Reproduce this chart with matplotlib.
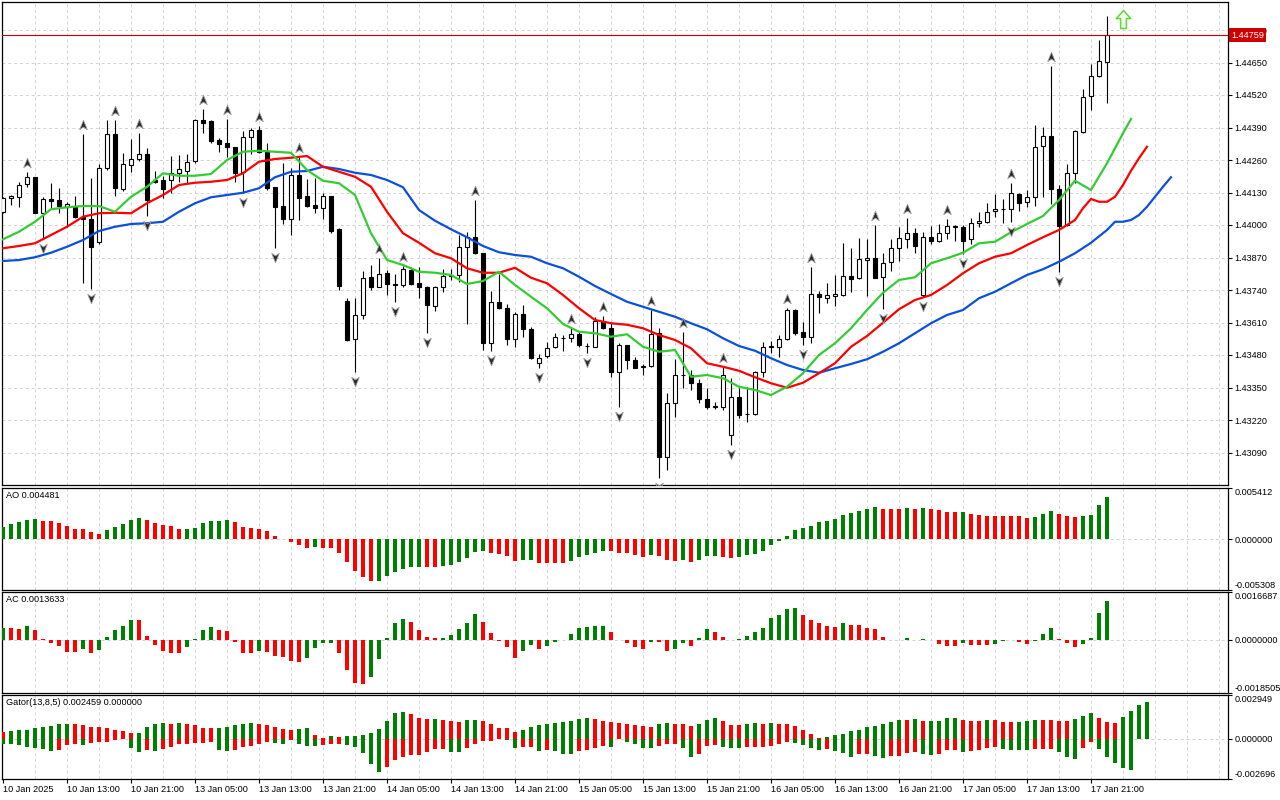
import numpy as np
import matplotlib
matplotlib.use('Agg')
from matplotlib import pyplot as plt
from matplotlib.path import Path
from matplotlib.transforms import offset_copy, blended_transform_factory

plt.rcParams['font.family'] = ['Liberation Sans', 'DejaVu Sans']
plt.rcParams['font.size'] = 6.6
FS = 6.6

# ---- H1 candles, 10 Jan 2025 05:00 .. 17 Jan 2025 ----
opens = [
    1.44053, 1.44108, 1.44113, 1.44163, 1.44191, 1.44047, 1.44103, 1.44099, 1.44071, 1.44071,
    1.44031, 1.44023, 1.43931, 1.44227, 1.44363, 1.44143, 1.44239, 1.44263, 1.44283, 1.44180,
    1.44179, 1.44180, 1.44207, 1.44217, 1.44257, 1.44420, 1.44416, 1.44340, 1.44327, 1.44312,
    1.44213, 1.44351, 1.44380, 1.44297, 1.44151, 1.44076, 1.44025, 1.44200, 1.44116, 1.44080,
    1.44067, 1.44116, 1.43983, 1.43697, 1.43543, 1.43640, 1.43793, 1.43753, 1.43807, 1.43763,
    1.43759, 1.43820, 1.43769, 1.43751, 1.43676, 1.43751, 1.43796, 1.43799, 1.43913, 1.43953,
    1.43887, 1.43529, 1.43693, 1.43667, 1.43543, 1.43643, 1.43583, 1.43447, 1.43476, 1.43511,
    1.43549, 1.43547, 1.43563, 1.43516, 1.43513, 1.43617, 1.43587, 1.43413, 1.43520, 1.43460,
    1.43433, 1.43436, 1.43567, 1.43073, 1.43287, 1.43400, 1.43400, 1.43367, 1.43303, 1.43273,
    1.43273, 1.43160, 1.43311, 1.43243, 1.43243, 1.43413, 1.43513, 1.43513, 1.43543, 1.43660,
    1.43573, 1.43551, 1.43723, 1.43709, 1.43716, 1.43719, 1.43796, 1.43787, 1.43860, 1.43867,
    1.43791, 1.43853, 1.43907, 1.43945, 1.43967, 1.43720, 1.43951, 1.43937, 1.43967, 1.43993,
    1.43993, 1.43943, 1.44007, 1.44013, 1.44055, 1.44063, 1.44063, 1.44124, 1.44091, 1.44113,
    1.44316, 1.44356, 1.44144, 1.43999, 1.44209, 1.44373, 1.44517, 1.44596, 1.44653,
]
highs = [
    1.44113, 1.44120, 1.44171, 1.44211, 1.44193, 1.44111, 1.44167, 1.44149, 1.44091, 1.44117,
    1.44364, 1.44187, 1.44244, 1.44420, 1.44420, 1.44287, 1.44343, 1.44369, 1.44309, 1.44216,
    1.44196, 1.44277, 1.44280, 1.44284, 1.44423, 1.44463, 1.44420, 1.44347, 1.44424, 1.44313,
    1.44376, 1.44387, 1.44396, 1.44329, 1.44153, 1.44247, 1.44227, 1.44273, 1.44183, 1.44187,
    1.44129, 1.44118, 1.43987, 1.43707, 1.43707, 1.43817, 1.43840, 1.43869, 1.43820, 1.43804,
    1.43836, 1.43833, 1.43833, 1.43755, 1.43756, 1.43823, 1.43823, 1.43960, 1.43971, 1.44100,
    1.43889, 1.43736, 1.43804, 1.43684, 1.43653, 1.43680, 1.43593, 1.43484, 1.43533, 1.43567,
    1.43560, 1.43587, 1.43573, 1.43529, 1.43633, 1.43637, 1.43607, 1.43527, 1.43522, 1.43473,
    1.43443, 1.43660, 1.43587, 1.43327, 1.43463, 1.43573, 1.43420, 1.43383, 1.43347, 1.43293,
    1.43433, 1.43387, 1.43347, 1.43353, 1.43417, 1.43533, 1.43537, 1.43560, 1.43667, 1.43663,
    1.43613, 1.43833, 1.43737, 1.43767, 1.43800, 1.43927, 1.43907, 1.43947, 1.43943, 1.44000,
    1.43887, 1.43943, 1.43991, 1.44027, 1.43987, 1.43972, 1.43996, 1.44004, 1.44023, 1.43999,
    1.43999, 1.44027, 1.44051, 1.44087, 1.44124, 1.44103, 1.44167, 1.44129, 1.44140, 1.44400,
    1.44393, 1.44636, 1.44160, 1.44244, 1.44380, 1.44543, 1.44644, 1.44740, 1.44836,
]
lows = [
    1.44047, 1.44080, 1.44071, 1.44151, 1.44047, 1.43943, 1.44067, 1.44047, 1.43993, 1.44027,
    1.43767, 1.43743, 1.43925, 1.44222, 1.44116, 1.44137, 1.44213, 1.44257, 1.44036, 1.44169,
    1.44107, 1.44127, 1.44173, 1.44167, 1.44247, 1.44367, 1.44327, 1.44293, 1.44273, 1.44173,
    1.44127, 1.44284, 1.44287, 1.44140, 1.43907, 1.44004, 1.43960, 1.44020, 1.44071, 1.44047,
    1.44023, 1.43969, 1.43740, 1.43536, 1.43413, 1.43623, 1.43740, 1.43751, 1.43720, 1.43693,
    1.43753, 1.43760, 1.43707, 1.43567, 1.43657, 1.43733, 1.43780, 1.43773, 1.43604, 1.43885,
    1.43500, 1.43497, 1.43663, 1.43520, 1.43513, 1.43553, 1.43463, 1.43427, 1.43467, 1.43507,
    1.43497, 1.43533, 1.43511, 1.43489, 1.43511, 1.43583, 1.43393, 1.43273, 1.43423, 1.43427,
    1.43400, 1.43433, 1.42987, 1.43020, 1.43233, 1.43347, 1.43340, 1.43287, 1.43263, 1.43263,
    1.43260, 1.43120, 1.43227, 1.43213, 1.43240, 1.43393, 1.43489, 1.43473, 1.43540, 1.43560,
    1.43520, 1.43529, 1.43649, 1.43689, 1.43676, 1.43716, 1.43733, 1.43783, 1.43716, 1.43787,
    1.43663, 1.43817, 1.43857, 1.43907, 1.43889, 1.43711, 1.43924, 1.43933, 1.43943, 1.43937,
    1.43884, 1.43924, 1.43991, 1.44009, 1.44031, 1.44009, 1.44013, 1.44057, 1.44071, 1.44077,
    1.44113, 1.44084, 1.43813, 1.43996, 1.44169, 1.44369, 1.44460, 1.44593, 1.44489,
]
closes = [
    1.44107, 1.44116, 1.44159, 1.44191, 1.44049, 1.44103, 1.44097, 1.44077, 1.44083, 1.44031,
    1.44023, 1.43913, 1.44227, 1.44363, 1.44147, 1.44243, 1.44263, 1.44283, 1.44100, 1.44173,
    1.44143, 1.44207, 1.44223, 1.44253, 1.44420, 1.44409, 1.44336, 1.44323, 1.44311, 1.44209,
    1.44351, 1.44380, 1.44293, 1.44147, 1.44073, 1.44025, 1.44201, 1.44109, 1.44076, 1.44067,
    1.44116, 1.43977, 1.43756, 1.43540, 1.43640, 1.43787, 1.43753, 1.43804, 1.43763, 1.43761,
    1.43823, 1.43765, 1.43753, 1.43679, 1.43753, 1.43796, 1.43799, 1.43913, 1.43951, 1.43887,
    1.43529, 1.43693, 1.43667, 1.43543, 1.43643, 1.43583, 1.43469, 1.43469, 1.43509, 1.43551,
    1.43548, 1.43563, 1.43520, 1.43515, 1.43617, 1.43587, 1.43413, 1.43520, 1.43460, 1.43429,
    1.43437, 1.43564, 1.43073, 1.43287, 1.43400, 1.43401, 1.43367, 1.43303, 1.43273, 1.43275,
    1.43400, 1.43311, 1.43240, 1.43244, 1.43413, 1.43513, 1.43515, 1.43543, 1.43660, 1.43569,
    1.43553, 1.43723, 1.43711, 1.43719, 1.43724, 1.43796, 1.43785, 1.43863, 1.43867, 1.43789,
    1.43849, 1.43907, 1.43947, 1.43967, 1.43917, 1.43951, 1.43937, 1.43967, 1.43996, 1.43995,
    1.43937, 1.44007, 1.44016, 1.44052, 1.44063, 1.44064, 1.44127, 1.44089, 1.44111, 1.44313,
    1.44356, 1.44143, 1.43996, 1.44209, 1.44376, 1.44513, 1.44596, 1.44657, 1.44759,
]
last_price = 1.44759

# ---- Alligator (already shifted forward), read every 2nd bar ----
lips_idx = list(range(0, 139, 2)) + [140, 141]
lips = [
    1.43943, 1.43973, 1.44013, 1.44063, 1.44071, 1.44076, 1.44076, 1.44053, 1.44113, 1.44153,
    1.44207, 1.44197, 1.44197, 1.44204, 1.44260, 1.44293, 1.44297, 1.44293, 1.44289, 1.44220,
    1.44177, 1.44167, 1.44120, 1.43967, 1.43860, 1.43840, 1.43813, 1.43809, 1.43800, 1.43764,
    1.43776, 1.43813, 1.43760, 1.43713, 1.43667, 1.43604, 1.43573, 1.43567, 1.43553, 1.43563,
    1.43513, 1.43493, 1.43500, 1.43393, 1.43400, 1.43387, 1.43353, 1.43340, 1.43320, 1.43353,
    1.43407, 1.43480, 1.43527, 1.43587, 1.43660, 1.43729, 1.43780, 1.43791, 1.43847, 1.43867,
    1.43889, 1.43927, 1.43933, 1.43971, 1.44004, 1.44036, 1.44100, 1.44177, 1.44140, 1.44247,
    1.44367, 1.44424,
]
teeth_idx = list(range(0, 135, 2)) + list(range(135, 144))
teeth = [
    1.43907, 1.43916, 1.43927, 1.43960, 1.43993, 1.44033, 1.44047, 1.44049, 1.44047, 1.44087,
    1.44120, 1.44160, 1.44169, 1.44173, 1.44180, 1.44207, 1.44253, 1.44264, 1.44269, 1.44276,
    1.44233, 1.44213, 1.44193, 1.44153, 1.44053, 1.43967, 1.43929, 1.43887, 1.43867, 1.43827,
    1.43809, 1.43809, 1.43829, 1.43789, 1.43767, 1.43720, 1.43667, 1.43620, 1.43607, 1.43601,
    1.43587, 1.43560, 1.43540, 1.43507, 1.43447, 1.43433, 1.43417, 1.43391, 1.43367, 1.43349,
    1.43369, 1.43407, 1.43447, 1.43513, 1.43556, 1.43609, 1.43663, 1.43700, 1.43720, 1.43760,
    1.43807, 1.43847, 1.43873, 1.43887, 1.43920, 1.43951, 1.43980, 1.44020,
    1.44067, 1.44104, 1.44093, 1.44093, 1.44113, 1.44160, 1.44217, 1.44267, 1.44313,
]
jaw_idx = list(range(0, 139, 2)) + list(range(139, 147))
jaw = [
    1.43856, 1.43860, 1.43871, 1.43889, 1.43913, 1.43940, 1.43976, 1.43993, 1.44004, 1.44007,
    1.44013, 1.44053, 1.44087, 1.44111, 1.44120, 1.44129, 1.44147, 1.44191, 1.44213, 1.44216,
    1.44233, 1.44224, 1.44209, 1.44200, 1.44180, 1.44151, 1.44060, 1.44017, 1.43983, 1.43951,
    1.43916, 1.43891, 1.43880, 1.43873, 1.43847, 1.43827, 1.43793, 1.43756, 1.43724, 1.43693,
    1.43673, 1.43653, 1.43633, 1.43607, 1.43583, 1.43547, 1.43516, 1.43497, 1.43467, 1.43440,
    1.43420, 1.43409, 1.43427, 1.43444, 1.43463, 1.43493, 1.43527, 1.43567, 1.43607, 1.43640,
    1.43660, 1.43707, 1.43733, 1.43767, 1.43800, 1.43823, 1.43853, 1.43887, 1.43929, 1.43980,
    1.44013, 1.44013, 1.44020, 1.44040, 1.44073, 1.44113, 1.44153, 1.44191,
]

# fractal bars
frac_up = [3, 10, 14, 17, 25, 28, 32, 37, 47, 50, 59, 71, 75, 81, 85, 90, 98, 101,
           109, 113, 118, 126, 131]
frac_dn = [5, 11, 18, 30, 34, 44, 49, 53, 61, 67, 73, 77, 82, 91, 100, 110, 115, 120,
           126, 132]
signal_bar, signal_price = 140, 1.44824

# ---- Awesome / Accelerator oscillators ----
ao = [
    0.001355, 0.001598, 0.001841, 0.002084, 0.002119, 0.001945, 0.001911, 0.001702, 0.001390, 0.001146,
    0.001130, 0.000764, 0.000625, 0.001042, 0.001355, 0.001598, 0.002015, 0.002293, 0.002050, 0.001702,
    0.001563, 0.001390, 0.001077, 0.001085, 0.001251, 0.001702, 0.001911, 0.001915, 0.002015, 0.001806,
    0.001355, 0.001181, 0.001112, 0.000869, 0.000417, 0.000104, -0.000278, -0.000625, -0.000938, -0.000834,
    -0.000850, -0.000938, -0.001424, -0.002362, -0.003300, -0.003926, -0.004377, -0.004340, -0.003821, -0.003405,
    -0.003092, -0.002918, -0.002900, -0.002910, -0.002920, -0.002814, -0.002675, -0.002362, -0.001945, -0.001320,
    -0.001216, -0.001424, -0.001563, -0.001737, -0.002258, -0.002154, -0.002150, -0.002467, -0.002470, -0.002475,
    -0.002480, -0.002258, -0.001841, -0.001633, -0.001424, -0.001216, -0.001220, -0.001424, -0.001430, -0.001633,
    -0.001841, -0.001668, -0.001737, -0.002119, -0.002258, -0.002154, -0.002362, -0.002154, -0.001737, -0.001730,
    -0.001841, -0.001945, -0.001841, -0.001633, -0.001529, -0.001216, -0.000591, -0.000174, 0.000417, 0.001042,
    0.001251, 0.001459, 0.001806, 0.001980, 0.002189, 0.002606, 0.002814, 0.003022, 0.003231, 0.003439,
    0.003231, 0.003225, 0.003220, 0.003335, 0.003231, 0.003335, 0.003231, 0.003127, 0.002918, 0.002915,
    0.002925, 0.002710, 0.002606, 0.002501, 0.002498, 0.002495, 0.002492, 0.002490, 0.002293, 0.002397,
    0.002710, 0.003022, 0.002710, 0.002501, 0.002397, 0.002501, 0.002606, 0.003648, 0.004481,
]
ao_colors = ("GGGGG RRRRRRRR GGGGG RRRRR GGGGGG RRRRRRRRRR G RRRRRRR GGGGGG RR GGGGGG RRRR GG "
             "RRRR GGGGG RRRRR G RRR G R GGG RR GGGGGGGGGGGGGGGGGG RRR G R G RRRR G RRRRRRRR "
             "GGG RRR GGGG")
ac = [
    0.000408, 0.000400, 0.000390, 0.000489, 0.000350, 0.000035, -0.000093, -0.000210, -0.000408, -0.000410,
    -0.000303, -0.000443, -0.000350, 0.000105, 0.000350, 0.000489, 0.000705, 0.000699, 0.000140, -0.000163,
    -0.000384, -0.000443, -0.000450, -0.000245, 0.000023, 0.000350, 0.000454, 0.000350, 0.000315, -0.000070,
    -0.000443, -0.000450, -0.000384, -0.000408, -0.000559, -0.000583, -0.000734, -0.000757, -0.000617, -0.000280,
    -0.000117, -0.000093, -0.000443, -0.001037, -0.001491, -0.001545, -0.001282, -0.000652, 0.000070, 0.000594,
    0.000734, 0.000629, 0.000350, 0.000105, 0.000070, 0.000075, 0.000175, 0.000384, 0.000594, 0.000909,
    0.000629, 0.000245, -0.000023, -0.000233, -0.000617, -0.000373, -0.000163, -0.000303, -0.000198, -0.000058,
    0.000012, 0.000210, 0.000419, 0.000454, 0.000489, 0.000490, 0.000280, -0.000010, -0.000117, -0.000233,
    -0.000303, -0.000058, -0.000065, -0.000373, -0.000303, -0.000093, -0.000198, 0.000070, 0.000384, 0.000280,
    0.000105, 0.000012, 0.000015, 0.000140, 0.000280, 0.000419, 0.000769, 0.000874, 0.001083, 0.001118,
    0.000874, 0.000699, 0.000594, 0.000489, 0.000454, 0.000594, 0.000524, 0.000520, 0.000419, 0.000384,
    0.000105, 0.000012, -0.000012, 0.000070, -0.000012, 0.000035, -0.000015, -0.000128, -0.000198, -0.000200,
    -0.000093, -0.000163, -0.000165, -0.000170, -0.000128, -0.000047, 0.000012, -0.000058, -0.000128, -0.000023,
    0.000210, 0.000419, 0.000035, -0.000093, -0.000233, -0.000128, 0.000070, 0.000944, 0.0013633,
]
ac_colors = ("G RR G RRRRRR G R GGGGG RRRRRR GGGG RRRRR G RRRRR GGGG RRRR GGGGG RRRR GGGGG RRRRR "
             "GG R GGGGGGGG RRRRR G RR GG R GG RRR GGGGGGGG RRRRR G RRRRRRR G R G RRRR G RRR "
             "GGG RR GGG RRR GGGG")

# ---- Gator oscillator, in points (0.00001) ----
gator_up = [
    48, 55, 61, 61, 70, 77, 88, 97, 103, 103, 90, 83, 77, 70, 61, 55, 42, 42, 77, 103,
    110, 103, 110, 97, 90, 70, 70, 70, 77, 90, 103, 110, 97, 90, 77, 68, 61, 68, 72, 24,
    7, 22, 15, 22, 22, 29, 42, 68, 121, 173, 180, 167, 141, 134, 134, 127, 121, 116, 127, 127,
    121, 101, 75, 75, 48, 61, 81, 94, 101, 108, 114, 121, 134, 141, 134, 121, 114, 108, 103, 94,
    88, 81, 101, 108, 101, 101, 88, 101, 127, 141, 121, 94, 94, 101, 108, 101, 108, 101, 101, 88,
    61, 35, 9, 15, 29, 35, 55, 61, 81, 88, 101, 114, 127, 127, 134, 121, 121, 121, 141, 141,
    127, 121, 121, 127, 127, 114, 114, 114, 121, 127, 127, 127, 121, 121, 134, 154, 173, 141, 114, 108,
    147, 187, 226, 246,
]
gator_up_colors = ("R GGGGGGGG RRRRRRRR GGGG R G RRRR GGGGG RRRRR GG R "
                   "R G R GGGGGGGG RRR G RRR GG RRRRR GGGGGGGGG RRRRRR "
                   "RR GG RRR GGG RRR GG R G RRRRRR GGGGGGGGGG R G R GGGG "
                   "RRR G RRR GGG RRRR GGG RRR GGGG")
gator_dn = [
    33, 35, 40, 57, 64, 66, 81, 77, 42, 35, 42, 29, 22, 18, 9, 4, 61, 88, 75, 81,
    70, 55, 35, 35, 29, 29, 22, 77, 81, 77, 57, 48, 35, 18, 26, 35, 7, 35, 46, 46,
    40, 35, 35, 42, 55, 94, 167, 220, 187, 143, 121, 108, 108, 88, 68, 68, 88, 88, 61, 35,
    15, 15, 2, 9, 61, 55, 55, 81, 75, 81, 101, 101, 81, 75, 61, 48, 55, 2, 22, 35,
    61, 61, 48, 35, 35, 61, 121, 101, 48, 42, 55, 61, 61, 55, 55, 55, 48, 35, 22, 29,
    42, 61, 75, 68, 81, 94, 121, 101, 101, 114, 127, 114, 114, 94, 88, 101, 108, 101, 75, 75,
    88, 81, 75, 61, 55, 68, 75, 75, 75, 68, 68, 68, 88, 121, 134, 61, 22, 68, 121, 160,
    193, 206, 2, 1,
]

# axis texts
price_ticks = [1.43090, 1.43220, 1.43350, 1.43480, 1.43610, 1.43740, 1.43870,
               1.44000, 1.44130, 1.44260, 1.44390, 1.44520, 1.44650, 1.44780]
time_labels = ['10 Jan 2025', '10 Jan 13:00', '10 Jan 21:00', '13 Jan 05:00', '13 Jan 13:00',
               '13 Jan 21:00', '14 Jan 05:00', '14 Jan 13:00', '14 Jan 21:00', '15 Jan 05:00',
               '15 Jan 13:00', '15 Jan 21:00', '16 Jan 05:00', '16 Jan 13:00', '16 Jan 21:00',
               '17 Jan 05:00', '17 Jan 13:00', '17 Jan 21:00']
time_ticks = list(range(0, 8 * len(time_labels), 8))


W, H = 1280, 800
fig = plt.figure(figsize=(W / 100, H / 100), dpi=100)
fig.patch.set_facecolor('white')


def panel(top, bottom):
    return fig.add_axes([2 / W, 1 - bottom / H, 1226 / W, (bottom - top) / H])


ax = panel(2, 485)
ax_ao = panel(488, 590)
ax_ac = panel(592, 693)
ax_gt = panel(695, 779)

GRID = '#d2d2d2'
DASH = (0, (3, 3))
COL = {'G': '#008000', 'R': '#ff0000'}

for a in (ax, ax_ao, ax_ac, ax_gt):
    a.set_xlim(-0.125, 153.125)
    for s in a.spines.values():
        s.set_linewidth(0.9)
    a.yaxis.tick_right()
    a.tick_params(axis='y', direction='out', length=3, width=0.8, pad=1.5, labelsize=FS)
    a.tick_params(axis='x', length=0, labelbottom=False)
    for v in range(4, 154, 4):
        a.axvline(v, color=GRID, lw=0.7, ls=DASH, zorder=0)

# ---- main price panel ----
ax.set_ylim(1.42960, 1.44892)
ax.set_yticks(price_ticks, [f'{p:.5f}' for p in price_ticks])
for p in price_ticks:
    ax.axhline(p, color=GRID, lw=0.7, ls=DASH, zorder=0)

o, h, l, c = map(np.array, (opens, highs, lows, closes))
x = np.arange(len(c))
bull = c > o
ax.vlines(x, l, h, color='black', lw=0.8, zorder=2)
ax.bar(x, np.abs(c - o), bottom=np.minimum(o, c), width=0.62,
       color=np.where(bull, 'white', 'black'), edgecolor='black', linewidth=0.8, zorder=3)

ax.plot(jaw_idx, jaw, color='#0a50dc', lw=1.6, zorder=4)
ax.plot(teeth_idx, teeth, color='#ff0000', lw=1.6, zorder=4)
ax.plot(lips_idx, lips, color='#33cc33', lw=1.6, zorder=4)

codes = [Path.MOVETO, Path.LINETO, Path.LINETO, Path.LINETO, Path.CLOSEPOLY]
arrow_up = Path([(0, 1), (0.72, -0.8), (0, -0.3), (-0.72, -0.8), (0, 1)], codes)
arrow_dn = Path([(0, -1), (0.72, 0.8), (0, 0.3), (-0.72, 0.8), (0, -1)], codes)
above = offset_copy(ax.transData, fig=fig, y=6.5, units='points')
below = offset_copy(ax.transData, fig=fig, y=-6.5, units='points')
ax.plot(frac_up, h[frac_up], ls='none', marker=arrow_up, ms=7.5, mfc='#2a2a2a',
        mec='#9a9a9a', mew=0.6, transform=above, zorder=5)
ax.plot(frac_dn, l[frac_dn], ls='none', marker=arrow_dn, ms=7.5, mfc='#2a2a2a',
        mec='#9a9a9a', mew=0.6, transform=below, zorder=5)

block = Path([(0, 1), (0.8, 0.1), (0.32, 0.1), (0.32, -1), (-0.32, -1), (-0.32, 0.1),
              (-0.8, 0.1), (0, 1)],
             [Path.MOVETO] + [Path.LINETO] * 6 + [Path.CLOSEPOLY])
ax.plot([signal_bar], [signal_price], marker=block, ms=13, mfc='#f4ffec', mec='#5fd83a',
        mew=1.1, zorder=6, clip_on=False)

ax.axhline(last_price, color='#c00000', lw=0.8, zorder=4)
tr = blended_transform_factory(ax.transAxes, ax.transData)
ax.text(1 + 3 / 1226, last_price, f'{last_price:.5f}', transform=tr, ha='left', va='center',
        color='white', fontsize=FS, zorder=10, clip_on=False,
        bbox=dict(boxstyle='square,pad=0.25', fc='#d00000', ec='none'))


# ---- sub panels ----
def side_scale(a, lo, hi, fmt):
    a.set_ylim(lo, hi)
    a.set_yticks([lo, 0, hi], [fmt % lo, fmt % 0, fmt % hi])
    labs = a.get_yticklabels()
    labs[0].set_va('bottom')
    labs[2].set_va('top')
    a.axhline(0, color=GRID, lw=0.7, ls=DASH, zorder=1)


def title(a, txt):
    a.text(4 / 1226, 0.97, txt, transform=a.transAxes, ha='left', va='top', fontsize=FS)


def trend_colors(vals):
    out = ['G']
    for prev, cur in zip(vals[:-1], vals[1:]):
        out.append('G' if cur > prev else 'R' if cur < prev else out[-1])
    return out


ax_ao.bar(x, ao, width=0.58, color=[COL[ch] for ch in ao_colors.replace(' ', '')], zorder=3)
side_scale(ax_ao, -0.005308, 0.005412, '%.6f')
title(ax_ao, 'AO 0.004481')

ax_ac.bar(x, ac, width=0.58, color=[COL[ch] for ch in ac_colors.replace(' ', '')], zorder=3)
side_scale(ax_ac, -0.0018505, 0.0016687, '%.7f')
title(ax_ac, 'AC 0.0013633')

gx = np.arange(len(gator_up))
up = np.array(gator_up) * 1e-5
dn = np.array(gator_dn) * 1e-5
ax_gt.bar(gx, up, width=0.58,
          color=[COL[ch] for ch in gator_up_colors.replace(' ', '')], zorder=3)
ax_gt.bar(gx, -dn, width=0.58, color=[COL[ch] for ch in trend_colors(gator_dn)], zorder=3)
side_scale(ax_gt, -0.002696, 0.002949, '%.6f')
title(ax_gt, 'Gator(13,8,5) 0.002459 0.000000')

ax_gt.set_xticks(time_ticks, time_labels, ha='left')
ax_gt.tick_params(axis='x', direction='out', length=3, width=0.8, pad=1.5,
                  labelbottom=True, labelsize=FS)

fig.savefig('out.png', dpi=100, facecolor='white')
